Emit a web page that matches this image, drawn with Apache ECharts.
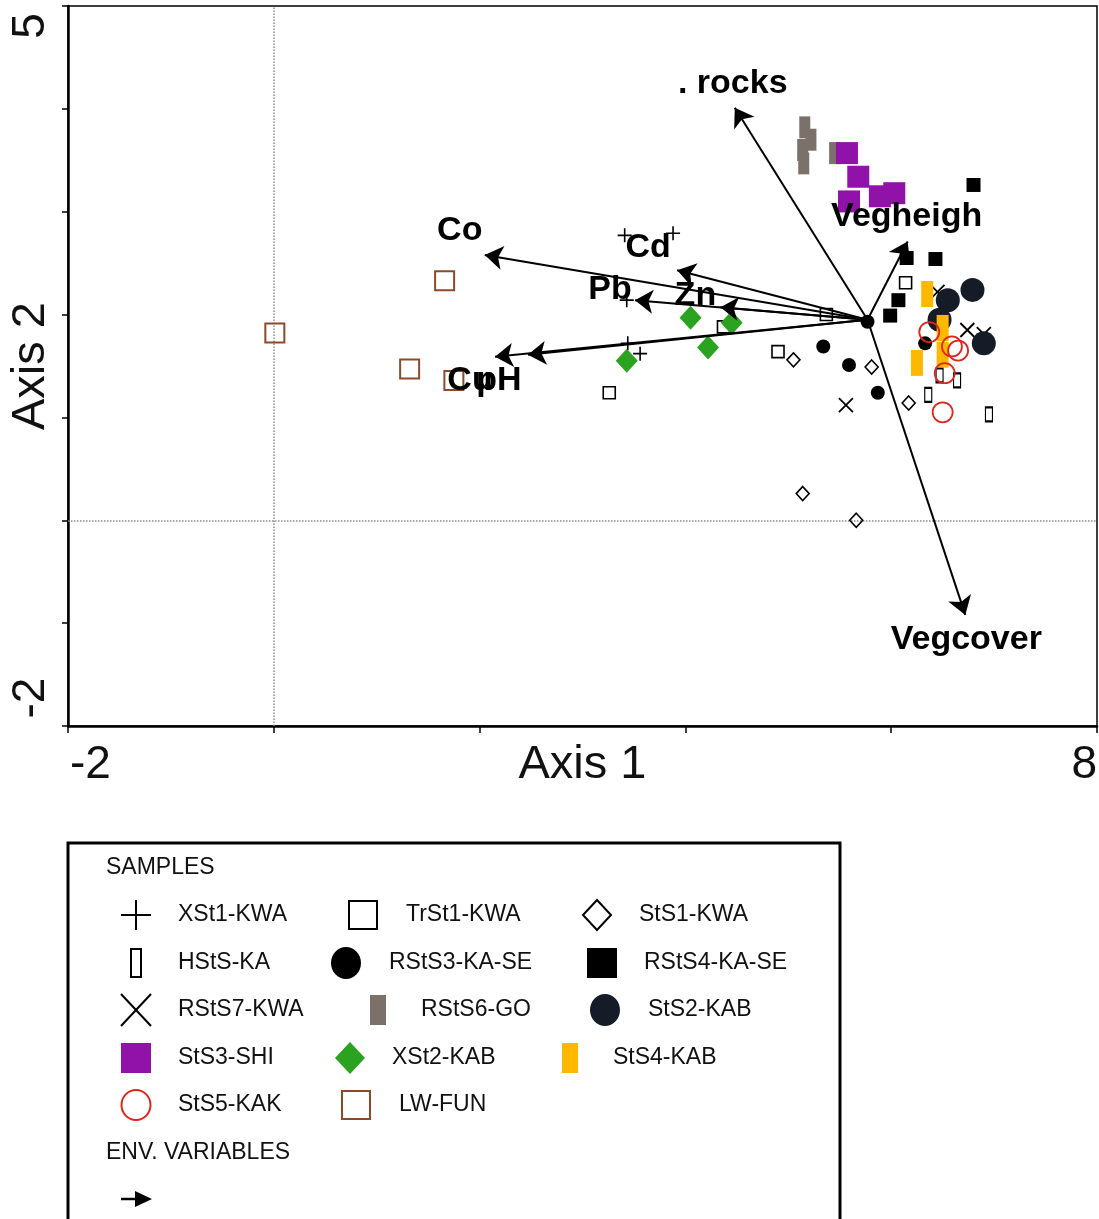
<!DOCTYPE html>
<html>
<head>
<meta charset="utf-8">
<script src="https://cdn.jsdelivr.net/npm/echarts@6/dist/echarts.min.js"></script>
<style>
html,body{margin:0;padding:0;background:#fff;}
#chart{width:1099px;height:1219px;}
</style>
</head>
<body>
<div id="chart"></div>
<script>
// Sample scores on the first two ordination axes, [Axis 1, Axis 2]
const xSt1KWA   = [[3.41,2.77],[3.88,2.79],[3.43,2.14],[3.44,1.72],[3.56,1.62]];
const trSt1KWA  = [[6.14,2.31],[5.37,2.00],[4.37,1.88],[4.90,1.64],[3.26,1.24]];
const stS1KWA   = [[5.05,1.56],[5.81,1.49],[5.14,0.26],[5.66,0.00],[6.17,1.14]];
const hStSKA    = [[6.47,1.41],[6.64,1.36],[6.36,1.22],[6.95,1.03]];
const rStS3KASE = [[5.34,1.69],[5.59,1.51],[5.87,1.24],[6.33,1.72],[5.77,1.93]];
const rStS4KASE = [[6.80,3.26],[6.43,2.54],[6.15,2.55],[6.07,2.14],[5.99,1.99]];
const rStS7KWA  = [[5.56,1.12],[6.45,2.22],[6.74,1.85],[6.90,1.81]];
const rStS6GO   = [[5.16,3.82],[5.22,3.70],[5.14,3.60],[5.15,3.47],[5.45,3.57]];
const stS2KAB   = [[6.79,2.24],[6.55,2.14],[6.47,1.95],[6.90,1.72]];
const stS3SHI   = [[5.57,3.57],[5.68,3.34],[5.59,3.10],[5.89,3.15],[6.03,3.18]];
const xSt2KAB   = [[4.05,1.97],[4.45,1.92],[4.22,1.68],[3.43,1.55]];
const stS4KAB   = [[6.35,2.20],[6.50,1.87],[6.25,1.53],[6.50,1.61]];
const stS5KAK   = [[6.37,1.83],[6.59,1.69],[6.65,1.65],[6.52,1.43],[6.50,1.05]];
const lwFUN     = [[0.01,1.82],[1.66,2.33],[1.32,1.47],[1.75,1.36]];

// Environmental variable vectors (biplot arrows)
const envNames  = ['. rocks','Vegheigh','Vegcover','Co','Cd','Pb','Zn','Cu','pH'];
const envOrigin = [5.77,1.95];
const envTips   = [[4.48,4.01],[6.16,2.71],[6.72,-0.92],[2.05,2.58],[3.92,2.43],[3.51,2.14],[4.34,2.07],[2.15,1.59],[2.47,1.61]];

// Axis ranges and the tick values that carry a label
const xRange = [-2, 8];
const yRange = [-2, 5];
const xTickLabels = [-2, 8];
const yTickLabels = [-2, 5];

const FONT = "'Liberation Sans', Arial, sans-serif";
const PLUS = 'path://M5,0L5,10M0,5L10,5';
const CROSS = 'path://M0,0L10,10M10,0L0,10';
const NONE = 'rgba(0,0,0,0)';

// marker look of every sample group
const groups = [
  {name:'XSt1-KWA',    data:xSt1KWA,   symbol:PLUS,     size:14,      fill:NONE,      stroke:'#000',    bw:1.6, icon:'plus'},
  {name:'TrSt1-KWA',   data:trSt1KWA,  symbol:'rect',   size:12,      fill:NONE,      stroke:'#000',    bw:1.6, icon:'square'},
  {name:'StS1-KWA',    data:stS1KWA,   symbol:'diamond',size:[13,14], fill:NONE,      stroke:'#000',    bw:1.6, icon:'diamond'},
  {name:'HStS-KA',     data:hStSKA,    symbol:'rect',   size:[7,14],  fill:NONE,      stroke:'#000',    bw:1.6, icon:'tall'},
  {name:'RStS3-KA-SE', data:rStS3KASE, symbol:'circle', size:14,      fill:'#000',    stroke:'#000',    bw:0,   icon:'dot'},
  {name:'RStS4-KA-SE', data:rStS4KASE, symbol:'rect',   size:14,      fill:'#000',    stroke:'#000',    bw:0,   icon:'block'},
  {name:'RStS7-KWA',   data:rStS7KWA,  symbol:CROSS,    size:14,      fill:NONE,      stroke:'#000',    bw:1.8, icon:'cross'},
  {name:'RStS6-GO',    data:rStS6GO,   symbol:'rect',   size:[11,22], fill:'#7b706a', stroke:'#7b706a', bw:0,   icon:'bar'},
  {name:'StS2-KAB',    data:stS2KAB,   symbol:'circle', size:24,      fill:'#151b27', stroke:'#151b27', bw:0,   icon:'dot'},
  {name:'StS3-SHI',    data:stS3SHI,   symbol:'rect',   size:22,      fill:'#9012a8', stroke:'#9012a8', bw:0,   icon:'block'},
  {name:'XSt2-KAB',    data:xSt2KAB,   symbol:'diamond',size:[22,24], fill:'#2ca320', stroke:'#2ca320', bw:0,   icon:'gem'},
  {name:'StS4-KAB',    data:stS4KAB,   symbol:'rect',   size:[12,26], fill:'#ffb800', stroke:'#ffb800', bw:0,   icon:'bar'},
  {name:'StS5-KAK',    data:stS5KAK,   symbol:'circle', size:20,      fill:NONE,      stroke:'#e0251c', bw:1.8, icon:'ring'},
  {name:'LW-FUN',      data:lwFUN,     symbol:'rect',   size:19,      fill:NONE,      stroke:'#8c4a2a', bw:2,   icon:'square'}
];

// label placement around each arrow tip (pixels)
const envLabelShift = {
  '. rocks':[-2,-24], 'Vegheigh':[-1,-25], 'Vegcover':[1,25], 'Co':[-25,-24],
  'Cd':[-29,-23], 'Pb':[-25,-11], 'Zn':[-25,-12], 'Cu':[-25,24], 'pH':[-29,26]
};

const chart = echarts.init(document.getElementById('chart'), null, {renderer:'canvas'});

const series = groups.map((g, i) => {
  const s = {
    type:'scatter', name:g.name, data:g.data, symbol:g.symbol, symbolSize:g.size,
    itemStyle:{color:g.fill, borderColor:g.stroke, borderWidth:g.bw, opacity:1},
    silent:true, z:3
  };
  if (i === 0) {
    s.markLine = {
      silent:true, symbol:'none', label:{show:false},
      lineStyle:{type:'dotted', color:'#8d8d8d', width:1.5},
      data:[{xAxis:0},{yAxis:0}], z:1
    };
  }
  return s;
});

series.push({
  type:'lines', coordinateSystem:'cartesian2d', silent:true, z:5,
  symbol:['none','arrow'], symbolSize:[1,18],
  lineStyle:{color:'#000', width:2, opacity:1, curveness:0},
  data:envTips.map(t => ({coords:[envOrigin, t]}))
});

series.push({
  type:'scatter', silent:true, z:8, symbolSize:0,
  itemStyle:{opacity:1},
  data:envTips.map((t, i) => ({
    value:t, name:envNames[i],
    label:{offset:envLabelShift[envNames[i]]}
  })),
  label:{show:true, position:'inside', formatter:'{b}', color:'#000', opacity:1,
         fontSize:34, fontWeight:'bold', fontFamily:FONT}
});

chart.setOption({
  animation:false,
  backgroundColor:'#fff',
  grid:{left:68, right:2, top:6, bottom:493, show:true, borderColor:'#000', borderWidth:1.5, backgroundColor:'#fff'},
  xAxis:{
    type:'value', min:xRange[0], max:xRange[1], interval:2,
    name:'Axis 1', nameLocation:'middle', nameGap:16,
    nameTextStyle:{fontSize:47, color:'#111', fontFamily:FONT},
    axisLine:{show:true, onZero:false, lineStyle:{color:'#000', width:2.5}},
    axisTick:{show:true, length:7, lineStyle:{color:'#000', width:1.5}},
    axisLabel:{show:false}, splitLine:{show:false}
  },
  yAxis:{
    type:'value', min:yRange[0], max:yRange[1], interval:1,
    name:'Axis 2', nameLocation:'middle', nameGap:13, nameRotate:90,
    nameTextStyle:{fontSize:47, color:'#111', fontFamily:FONT},
    axisLine:{show:true, onZero:false, lineStyle:{color:'#000', width:2.5}},
    axisTick:{show:true, length:6, lineStyle:{color:'#000', width:1.5}},
    axisLabel:{show:false}, splitLine:{show:false}
  },
  series:series
});

// tick labels at the axis ends
const graphics = [];
const px = v => chart.convertToPixel({xAxisIndex:0}, v);
const py = v => chart.convertToPixel({yAxisIndex:0}, v);
const yBase = py(yRange[0]);
const xBase = px(xRange[0]);
xTickLabels.forEach((v, i) => {
  const last = i === xTickLabels.length - 1;
  graphics.push({type:'text', x:px(v) + (last ? 0 : 2), y:yBase + 39, silent:true,
    style:{text:String(v), fontSize:46, fontFamily:FONT, fill:'#111',
           align:last ? 'right' : 'left', verticalAlign:'middle'}});
});
yTickLabels.forEach((v, i) => {
  const last = i === yTickLabels.length - 1;
  graphics.push({type:'text', x:xBase - 37, y:py(v) + (last ? 20 : -28), rotation:Math.PI/2, silent:true,
    style:{text:String(v), fontSize:46, fontFamily:FONT, fill:'#111',
           align:'center', verticalAlign:'middle'}});
});

// legend panel
const LEG = {left:68, top:843, right:840};
graphics.push({type:'rect', silent:true,
  shape:{x:LEG.left, y:LEG.top, width:LEG.right - LEG.left, height:420},
  style:{fill:'#fff', stroke:'#000', lineWidth:3}});
const legText = (t, x, y) => graphics.push({type:'text', x:x, y:y, silent:true,
  style:{text:t, fontSize:23, fontFamily:FONT, fill:'#111', align:'left', verticalAlign:'middle'}});
legText('SAMPLES', 106, 868);
legText('ENV. VARIABLES', 106, 1153);

function icon(g, cx, cy) {
  const sw = 2;
  switch (g.icon) {
    case 'plus':
      graphics.push({type:'line', silent:true, shape:{x1:cx-15, y1:cy, x2:cx+15, y2:cy}, style:{stroke:g.stroke, lineWidth:sw}});
      graphics.push({type:'line', silent:true, shape:{x1:cx, y1:cy-15, x2:cx, y2:cy+15}, style:{stroke:g.stroke, lineWidth:sw}});
      break;
    case 'cross':
      graphics.push({type:'line', silent:true, shape:{x1:cx-15, y1:cy-16, x2:cx+15, y2:cy+16}, style:{stroke:g.stroke, lineWidth:sw}});
      graphics.push({type:'line', silent:true, shape:{x1:cx+15, y1:cy-16, x2:cx-15, y2:cy+16}, style:{stroke:g.stroke, lineWidth:sw}});
      break;
    case 'square':
      graphics.push({type:'rect', silent:true, shape:{x:cx-14, y:cy-14, width:28, height:28}, style:{fill:'#fff', stroke:g.stroke, lineWidth:sw}});
      break;
    case 'tall':
      graphics.push({type:'rect', silent:true, shape:{x:cx-5, y:cy-14, width:10, height:28}, style:{fill:'#fff', stroke:g.stroke, lineWidth:sw}});
      break;
    case 'diamond':
      graphics.push({type:'polygon', silent:true, shape:{points:[[cx,cy-15],[cx+14,cy],[cx,cy+15],[cx-14,cy]]}, style:{fill:'#fff', stroke:g.stroke, lineWidth:sw}});
      break;
    case 'gem':
      graphics.push({type:'polygon', silent:true, shape:{points:[[cx,cy-16],[cx+15,cy],[cx,cy+16],[cx-15,cy]]}, style:{fill:g.fill}});
      break;
    case 'dot':
      graphics.push({type:'ellipse', silent:true, shape:{cx:cx, cy:cy, rx:15, ry:16}, style:{fill:g.fill}});
      break;
    case 'ring':
      graphics.push({type:'ellipse', silent:true, shape:{cx:cx, cy:cy, rx:14.5, ry:15}, style:{fill:'#fff', stroke:g.stroke, lineWidth:sw}});
      break;
    case 'block':
      graphics.push({type:'rect', silent:true, shape:{x:cx-15, y:cy-15, width:30, height:30}, style:{fill:g.fill}});
      break;
    case 'bar':
      graphics.push({type:'rect', silent:true, shape:{x:cx-8, y:cy-15, width:16, height:30}, style:{fill:g.fill}});
      break;
  }
}

// [icon centre x, text left x, row centre y] for each group, in series order
const legendCells = [
  [136,178,915], [363,406,915], [597,639,915],
  [136,178,963], [346,389,963], [602,644,963],
  [136,178,1010],[378,421,1010],[605,648,1010],
  [136,178,1058],[350,392,1058],[570,613,1058],
  [136,178,1105],[356,399,1105]
];
groups.forEach((g, i) => {
  const c = legendCells[i];
  icon(g, c[0], c[2]);
  legText(g.name, c[1], c[2]);
});

// arrow key for the environmental variables
graphics.push({type:'line', silent:true, shape:{x1:121, y1:1199, x2:140, y2:1199}, style:{stroke:'#000', lineWidth:2.5}});
graphics.push({type:'polygon', silent:true, shape:{points:[[135,1191],[152,1199],[135,1207]]}, style:{fill:'#000'}});

chart.setOption({graphic:graphics});
</script>
</body>
</html>
